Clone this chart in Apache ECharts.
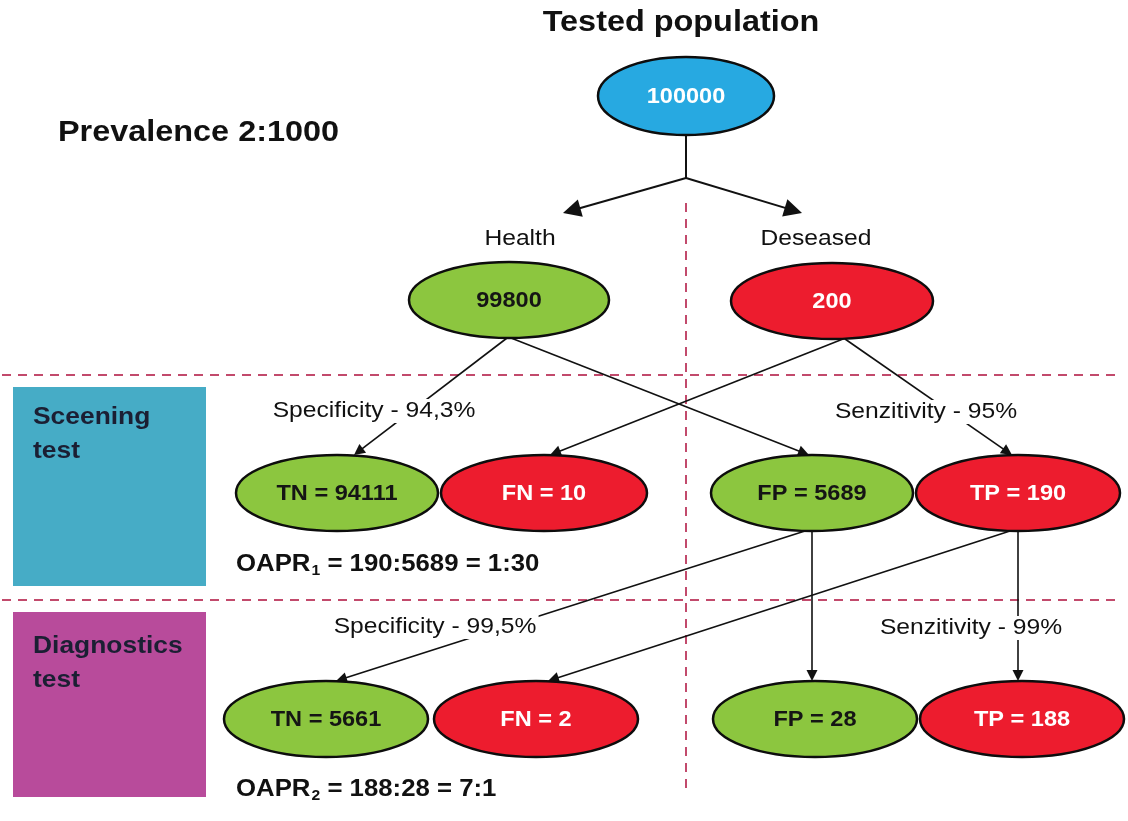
<!DOCTYPE html>
<html>
<head>
<meta charset="utf-8">
<script src="https://cdn.jsdelivr.net/npm/echarts@6/dist/echarts.min.js"></script>
<style>html,body{margin:0;padding:0;background:#fff}#c{width:1128px;height:821px}</style>
</head>
<body>
<div id="c"></div>
<script>
// ---------------- data ----------------
const titleText = 'Tested population';
const prevalenceText = 'Prevalence 2:1000';
const nodeKeys   = ['', '', '', 'TN', 'FN', 'FP', 'TP', 'TN', 'FN', 'FP', 'TP'];
const nodeValues = [100000, 99800, 200, 94111, 10, 5689, 190, 5661, 2, 28, 188];
const nodeGroups = ['all', 'healthy', 'diseased', 'healthy', 'diseased', 'healthy', 'diseased', 'healthy', 'diseased', 'healthy', 'diseased'];
const branchLabels = ['Health', 'Deseased'];
const edgeFrom = [1, 1, 2, 2, 5, 6, 5, 6];
const edgeTo   = [3, 5, 4, 6, 7, 8, 9, 10];
const rateLabels = ['Specificity - 94,3%', 'Senzitivity - 95%', 'Specificity - 99,5%', 'Senzitivity - 99%'];
const stageLabels = [['Sceening', 'test'], ['Diagnostics', 'test']];
const oaprSubs = ['1', '2'];
const oaprTexts = [' = 190:5689 = 1:30', ' = 188:28 = 7:1'];

// ---------------- layout (pixel space of the hidden axes) ----------------
const nodeX = [686, 509, 832, 337, 544, 812, 1018, 326, 536, 815, 1022];
const nodeY = [96, 300, 301, 493, 493, 493, 493, 719, 719, 719, 719];
const nodeW = [176, 200, 202, 202, 206, 202, 204, 204, 204, 204, 204];
const nodeH = [78, 76, 76, 76, 76, 76, 76, 76, 76, 76, 76];
const edgeStartDx = [-2, 2, 11, 13, -7, -8, 0, 0];
const edgeEndDx   = [17, -3, 6, -6, 10, 12, -3, -4];
const splitJunction = [686, 178];
const splitTips = [[563, 213], [802, 213]];
const branchLabelPos = [[520, 239], [816, 239]];
const rateLabelPos = [[374, 411], [926, 412], [435, 627], [971, 628]];
const stagePanels = [[13, 387, 206, 586], [13, 612, 206, 797]];
const stageLabelPos = [[33, 417, 451], [33, 646, 680]];
const oaprPos = [[236, 565], [236, 790]];
const hSeparators = [375, 600];
const vSeparator = [686, 203, 788];

// ---------------- styles ----------------
const FONT = '"Liberation Sans", Arial, Helvetica, sans-serif';
const SX = 1.12;
const groupFill = { all: '#27a9e1', healthy: '#8cc63f', diseased: '#ed1c2e' };
const groupText = { all: '#ffffff', healthy: '#151515', diseased: '#ffffff' };
const panelColors = ['#46acc6', '#b84b9b'];
const dashColor = '#c24a6c';

function shorten(p0, p1, d) {
  const dx = p1[0] - p0[0], dy = p1[1] - p0[1];
  const L = Math.hypot(dx, dy);
  return [p1[0] - dx / L * d, p1[1] - dy / L * d];
}

const BIG = 18, SMALL = 11;
const stemData = [{ coords: [[nodeX[0], nodeY[0] + nodeH[0] / 2], splitJunction] }];
const splitData = splitTips.map(t => ({ coords: [splitJunction, shorten(splitJunction, t, BIG / 2)] }));
const edgeData = edgeFrom.map((f, i) => {
  const t = edgeTo[i];
  const p0 = [nodeX[f] + edgeStartDx[i], nodeY[f] + nodeH[f] / 2];
  const p1 = [nodeX[t] + edgeEndDx[i], nodeY[t] - nodeH[t] / 2];
  return { coords: [p0, shorten(p0, p1, SMALL / 2)] };
});
const sepData = hSeparators.map(y => ({ coords: [[2, y], [1116, y]] }))
  .concat([{ coords: [[vSeparator[0], vSeparator[1]], [vSeparator[0], vSeparator[2]]] }]);

function txt(text, x, y, size, weight, align, extra, sx) {
  return {
    type: 'text', x: x, y: y, scaleX: sx || SX, z: 100,
    style: Object.assign({
      text: text, fill: '#111', fontSize: size, fontWeight: weight, fontFamily: FONT,
      textAlign: align, align: align, textVerticalAlign: 'middle', verticalAlign: 'middle'
    }, extra || {})
  };
}

const graphics = [];
graphics.push(txt(titleText, 681, 23, 30, 'bold', 'center', null, 1.08));
graphics.push(txt(prevalenceText, 58, 133, 30, 'bold', 'left', null, 1.08));
branchLabels.forEach((t, i) => graphics.push(txt(t, branchLabelPos[i][0], branchLabelPos[i][1], 22, 'normal', 'center')));
rateLabels.forEach((t, i) => graphics.push(txt(t, rateLabelPos[i][0], rateLabelPos[i][1], 22, 'normal', 'center',
  { backgroundColor: '#ffffff', padding: [1, 2] })));
stageLabels.forEach((lines, i) => {
  graphics.push(txt(lines[0], stageLabelPos[i][0], stageLabelPos[i][1], 24, 'bold', 'left', { fill: '#1b1f33' }, 1.1));
  graphics.push(txt(lines[1], stageLabelPos[i][0], stageLabelPos[i][2], 24, 'bold', 'left', { fill: '#1b1f33' }, 1.1));
});
oaprSubs.forEach((s, i) => {
  graphics.push(txt('{b|OAPR}{s|' + s + '}{b|' + oaprTexts[i] + '}', oaprPos[i][0], oaprPos[i][1], 23, 'bold', 'left', {
    rich: {
      b: { fontSize: 23, fontWeight: 'bold', fontFamily: FONT, fill: '#111', color: '#111' },
      s: { fontSize: 14, fontWeight: 'bold', fontFamily: FONT, fill: '#111', color: '#111', padding: [13, 0, 0, 1] }
    }
  }));
});

const chart = echarts.init(document.getElementById('c'), null, { renderer: 'canvas' });
chart.setOption({
  animation: false,
  backgroundColor: '#ffffff',
  grid: { left: 0, right: 0, top: 0, bottom: 0 },
  xAxis: { type: 'value', min: 0, max: 1128, show: false },
  yAxis: { type: 'value', min: 0, max: 821, inverse: true, show: false },
  graphic: { elements: graphics },
  series: [
    {
      type: 'custom', name: 'panels', coordinateSystem: 'cartesian2d', silent: true, z: 1,
      data: stageLabels.map((s, i) => [i]),
      renderItem: function (params, api) {
        const r = stagePanels[api.value(0)];
        const p0 = api.coord([r[0], r[1]]), p1 = api.coord([r[2], r[3]]);
        return { type: 'rect', shape: { x: p0[0], y: p0[1], width: p1[0] - p0[0], height: p1[1] - p0[1] },
          style: { fill: panelColors[api.value(0)] } };
      }
    },
    {
      type: 'lines', name: 'separators', coordinateSystem: 'cartesian2d', silent: true, z: 2,
      symbol: 'none',
      lineStyle: { color: dashColor, width: 2, type: [9, 7], opacity: 1, curveness: 0 },
      data: sepData
    },
    {
      type: 'lines', name: 'stem', coordinateSystem: 'cartesian2d', silent: true, z: 3,
      symbol: 'none',
      lineStyle: { color: '#111', width: 2, opacity: 1, curveness: 0 },
      data: stemData
    },
    {
      type: 'lines', name: 'split', coordinateSystem: 'cartesian2d', silent: true, z: 3,
      symbol: ['none', 'triangle'], symbolSize: BIG,
      lineStyle: { color: '#111', width: 2, opacity: 1, curveness: 0 },
      itemStyle: { color: '#111' },
      data: splitData
    },
    {
      type: 'lines', name: 'edges', coordinateSystem: 'cartesian2d', silent: true, z: 3,
      symbol: ['none', 'triangle'], symbolSize: SMALL,
      lineStyle: { color: '#111', width: 1.6, opacity: 1, curveness: 0 },
      itemStyle: { color: '#111' },
      data: edgeData
    },
    {
      type: 'custom', name: 'nodes', coordinateSystem: 'cartesian2d', silent: true, z: 5,
      data: nodeValues.map((v, i) => [nodeX[i], nodeY[i], v, i]),
      renderItem: function (params, api) {
        const i = api.value(3);
        const c = api.coord([api.value(0), api.value(1)]);
        const g = nodeGroups[i];
        const label = (nodeKeys[i] ? nodeKeys[i] + ' = ' : '') + nodeValues[i];
        return {
          type: 'group',
          children: [
            { type: 'ellipse', shape: { cx: c[0], cy: c[1], rx: nodeW[i] / 2, ry: nodeH[i] / 2 },
              style: { fill: groupFill[g], stroke: '#0d0d0d', lineWidth: 2.5 } },
            { type: 'text', x: c[0], y: c[1] + 1, scaleX: 1.07,
              style: { text: label, fill: groupText[g], fontSize: 22, fontWeight: 'bold', fontFamily: FONT,
                textAlign: 'center', align: 'center', textVerticalAlign: 'middle', verticalAlign: 'middle' } }
          ]
        };
      }
    }
  ]
});
</script>
</body>
</html>
